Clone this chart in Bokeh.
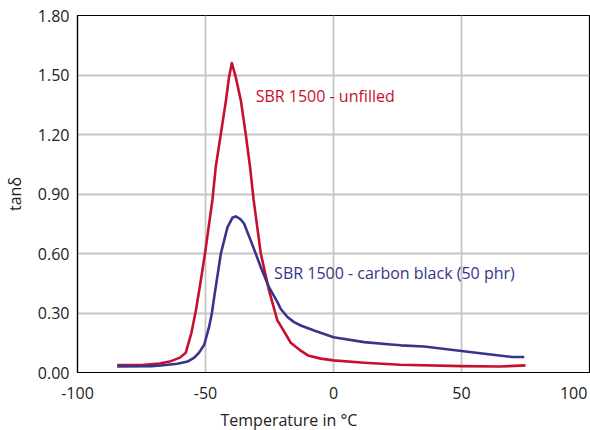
from bokeh.plotting import figure
from bokeh.models import Label, FixedTicker, Range1d, Title
from bokeh.embed import file_html
from bokeh.resources import INLINE

# ---- data ----
red_T = [-84.5, -75, -68, -64, -60, -57.7, -55.5, -53.8, -52, -50.2, -47.3, -46, -44, -42,
         -40.8, -39.7, -38.2, -36.2, -34.3, -32.6, -31.2, -28.4, -25.2, -21.9, -20.6,
         -16.7, -12.8, -10, -5, 0, 12, 26, 50, 65, 75]
red_v = [0.038, 0.038, 0.045, 0.055, 0.075, 0.10, 0.20, 0.31, 0.45, 0.60, 0.87, 1.036, 1.204, 1.372,
         1.49, 1.56, 1.49, 1.372, 1.204, 1.036, 0.87, 0.60, 0.414, 0.262, 0.235,
         0.15, 0.11, 0.086, 0.07, 0.061, 0.049, 0.039, 0.032, 0.03, 0.036]

blue_T = [-84.5, -71, -67.5, -61, -57, -54.4, -52.5, -50.5, -48.6, -47.5, -46.6, -44, -41.4,
          -39.5, -38.2, -36.5, -34.9, -31.6, -28.4, -25.2, -21.9, -20.6, -18, -15.4, -12.8,
          -7.6, 0, 12, 22.4, 26.3, 35.4, 50, 61.4, 69.3, 74.5]
blue_v = [0.03, 0.032, 0.035, 0.044, 0.055, 0.075, 0.10, 0.14, 0.23, 0.30, 0.38, 0.60, 0.733,
          0.78, 0.787, 0.775, 0.75, 0.641, 0.531, 0.43, 0.355, 0.32, 0.28, 0.254, 0.237,
          0.212, 0.178, 0.153, 0.141, 0.137, 0.131, 0.108, 0.091, 0.079, 0.078]

x_ticks = [-100, -50, 0, 50, 100]
x_tick_labels = ["-100", "-50", "0", "50", "100"]
y_ticks = [0.0, 0.3, 0.6, 0.9, 1.2, 1.5, 1.8]
y_tick_labels = ["0.00", "0.30", "0.60", "0.90", "1.20", "1.50", "1.80"]

red_name = "SBR 1500 - unfilled"
blue_name = "SBR 1500 - carbon black (50 phr)"
x_title = "Temperature in °C"
y_title = "tanδ"

RED = "#C8102E"
BLUE = "#37348B"
INK = "#222222"
FONT = "Open Sans"

p = figure(frame_width=512, frame_height=357, output_backend="svg", toolbar_location=None,
           x_range=Range1d(-100, 100), y_range=Range1d(0, 1.8),
           min_border_left=76, min_border_right=2, min_border_top=15, min_border_bottom=56)

p.background_fill_color = "white"
p.border_fill_color = "white"
p.outline_line_color = "black"
p.outline_line_width = 1.2

for ax in (p.xaxis, p.yaxis):
    ax.major_tick_line_color = None
    ax.minor_tick_line_color = None
    ax.axis_line_color = "black"
    ax.axis_line_width = 1.2
    ax.major_label_text_font = FONT
    ax.major_label_text_font_size = "16px"
    ax.major_label_text_color = INK
    ax.major_tick_out = 0
    ax.major_tick_in = 0

p.xaxis.ticker = FixedTicker(ticks=x_ticks)
p.yaxis.ticker = FixedTicker(ticks=y_ticks)
xo = dict(zip(x_ticks, x_tick_labels))
xo[100] = xo[100] + "\u00a0"
p.xaxis.major_label_overrides = xo
p.yaxis.major_label_overrides = dict(zip(y_ticks, y_tick_labels))
p.xaxis.major_label_standoff = 9
p.yaxis.major_label_standoff = 8

p.yaxis.axis_label = y_title
p.yaxis.axis_label_text_font = FONT
p.yaxis.axis_label_text_font_size = "16px"
p.yaxis.axis_label_text_font_style = "normal"
p.yaxis.axis_label_text_color = INK
p.yaxis.axis_label_standoff = 9

p.grid.grid_line_color = "#C4C4C4"
p.grid.grid_line_width = 1.8
p.xgrid.ticker = FixedTicker(ticks=x_ticks)
p.ygrid.ticker = FixedTicker(ticks=y_ticks)

p.line(red_T, red_v, line_color=RED, line_width=2.6, line_join="round")
p.line(blue_T, blue_v, line_color=BLUE, line_width=2.6, line_join="round")

p.add_layout(Label(x=-30.4, y=1.396, text=red_name, text_color=RED, text_font=FONT,
                   text_font_size="16px", text_baseline="alphabetic", text_align="left"))
p.add_layout(Label(x=-23.2, y=0.504, text=blue_name, text_color=BLUE, text_font=FONT,
                   text_font_size="16px", text_baseline="alphabetic", text_align="left"))

p.add_layout(Title(text=x_title, align="left", offset=143, standoff=0, text_font=FONT,
                   text_font_size="16px", text_font_style="normal", text_color=INK,
                   text_line_height=0.9), "below")

open("out.html", "w").write(file_html(p, INLINE))
